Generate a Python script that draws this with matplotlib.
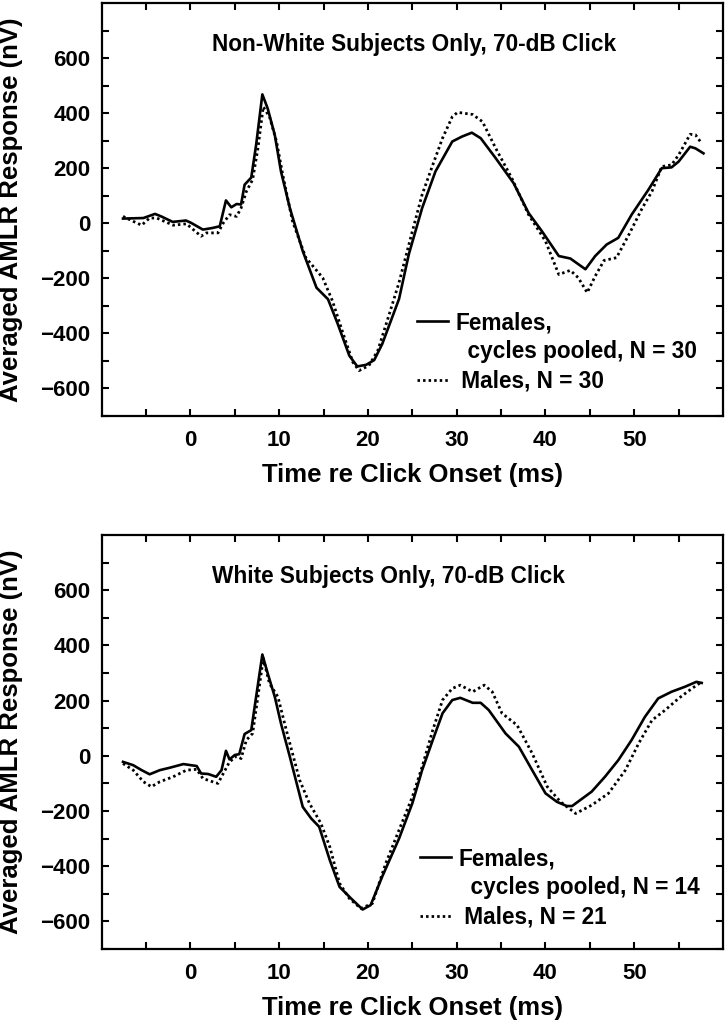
import matplotlib
matplotlib.use("Agg")
import matplotlib.pyplot as plt
from matplotlib.lines import Line2D
from matplotlib.ticker import FixedLocator

plt.rcParams['font.family'] = ['Liberation Sans', 'DejaVu Sans']
plt.rcParams['font.weight'] = 'bold'

# ---------------- data ----------------
top_title = "Non-White Subjects Only, 70-dB Click"
bot_title = "White Subjects Only, 70-dB Click"

top_f_t = [-7.6, -5.3, -4.0, -3.3, -2.0, -0.5, 0.1, 1.4, 2.5, 3.3, 4.0, 4.6, 5.2, 5.7, 6.1, 6.85,
           7.4, 8.1, 8.7, 9.5, 10.2, 11.2, 12.65, 14.2, 15.5, 16.6, 17.9, 18.8, 19.8, 20.7, 21.6,
           23.5, 24.6, 26.1, 27.6, 29.5, 30.6, 31.7, 32.7, 34.4, 36.4, 38.1, 39.6, 41.5, 42.8,
           44.5, 45.6, 46.9, 48.2, 49.7, 51.6, 53.1, 54.2, 55.0, 56.3, 56.9, 57.8]
top_f_v = [17, 19, 34, 25, 5, 10, 1, -23, -17, -11, 83, 58, 70, 68, 140, 166,
           285, 468, 417, 321, 188, 55, -101, -234, -276, -366, -481, -520, -514, -497, -439,
           -275, -113, 55, 188, 297, 315, 329, 309, 236, 146, 37, -29, -119, -128,
           -167, -119, -77, -53, 31, 122, 200, 203, 224, 278, 272, 254]

top_m_t = [-7.6, -6.45, -5.5, -4.6, -3.8, -1.95, -0.45, 0.1, 1.2, 1.8, 3.1, 3.7, 4.4, 5.2, 5.7,
           6.3, 7.0, 7.6, 8.2, 8.9, 9.7, 10.4, 11.5, 13.0, 14.9, 16.0, 17.1, 18.3, 19.0, 20.1,
           21.1, 22.4, 23.5, 25.0, 26.1, 27.3, 28.4, 29.5, 30.1, 31.8, 32.9, 34.4, 36.2, 38.1,
           40.0, 41.5, 42.8, 43.7, 44.7, 45.6, 46.6, 48.0, 49.4, 50.9, 52.0, 53.1, 54.2, 55.0,
           56.3, 56.9, 57.6]
top_m_v = [25, 7, -7, 19, 19, -7, -2, -17, -47, -35, -35, 1, 31, 25, 55,
           116, 158, 272, 423, 387, 297, 176, 7, -125, -198, -282, -391, -505, -535, -517,
           -463, -330, -215, -29, 104, 212, 309, 387, 403, 395, 369, 272, 164, 31,
           -65, -186, -171, -198, -252, -192, -135, -125, -41, 55, 116, 206, 212, 248,
           323, 321, 290]

bot_f_t = [-7.6, -6.45, -5.5, -4.6, -3.45, -2.3, -0.8, 0.7, 1.2, 2.0, 2.9, 3.5, 4.0, 4.4, 5.0,
           5.5, 6.1, 6.85, 7.4, 8.1, 8.7, 9.5, 10.2, 11.2, 12.65, 13.6, 14.5, 15.7, 16.8, 18.1,
           19.4, 20.3, 21.6, 23.5, 25.0, 26.1, 27.3, 28.4, 29.5, 30.4, 31.8, 32.7, 33.6, 35.5,
           37.0, 38.5, 40.0, 41.3, 42.4, 43.0, 45.2, 46.7, 48.2, 49.7, 51.2, 52.7, 54.2, 55.7,
           57.0, 57.6]
bot_f_v = [-22, -34, -52, -67, -52, -43, -30, -37, -64, -66, -76, -52, 18, -13, 3,
           6, 79, 93, 214, 367, 299, 214, 117, -4, -185, -227, -257, -378, -475, -517,
           -557, -541, -438, -300, -172, -52, 57, 154, 202, 210, 192, 192, 166, 81,
           33, -52, -136, -167, -182, -182, -130, -76, -16, 57, 141, 208, 232, 250,
           268, 264]

bot_m_t = [-7.6, -6.45, -5.3, -4.4, -3.45, -1.95, -0.45, 0.7, 1.4, 2.2, 3.1, 3.7, 4.4, 5.2, 5.7,
           6.3, 7.0, 7.6, 8.2, 8.9, 9.85, 10.8, 12.3, 13.4, 14.7, 15.7, 16.8, 17.9, 19.2, 20.5,
           22.0, 23.5, 25.0, 26.1, 27.3, 28.4, 29.5, 30.4, 31.8, 33.1, 34.0, 35.1, 36.8, 38.5,
           40.2, 41.7, 43.4, 45.2, 47.1, 49.0, 50.5, 52.0, 53.5, 55.0, 56.5, 57.6]
bot_m_v = [-28, -52, -94, -112, -94, -76, -52, -49, -82, -91, -100, -64, -22, -1, -10,
           57, 81, 214, 353, 262, 214, 93, -88, -172, -245, -330, -462, -517, -553, -535,
           -390, -269, -149, -40, 93, 202, 244, 256, 232, 256, 232, 154, 111, 9,
           -112, -167, -209, -179, -136, -52, 45, 129, 166, 208, 244, 268]

top_labels = ["Females,", "  cycles pooled, N = 30", " Males, N = 30"]
bot_labels = ["Females,", "  cycles pooled, N = 14", " Males, N = 21"]

x_major = [0, 10, 20, 30, 40, 50]
x_minor = [-5, 5, 15, 25, 35, 45, 55]
y_major = [-600, -400, -200, 0, 200, 400, 600]
y_minor = [-700, -500, -300, -100, 100, 300, 500, 700]

xlabel = "Time re Click Onset (ms)"
ylabel = "Averaged AMLR Response (nV)"

# ---------------- figure ----------------
W, H = 727, 1021
fig = plt.figure(figsize=(W / 100, H / 100), dpi=100)

SOLID = dict(color='black', lw=1.9, linestyle='-', solid_joinstyle='round')
DOT = dict(color='black', lw=2.0, linestyle=(0, (0.9, 1.1)))


def make_panel(rect, f_t, f_v, m_t, m_v, title, labels, leg_anchor):
    ax = fig.add_axes(rect)
    ax.plot(m_t, m_v, **DOT)
    ax.plot(f_t, f_v, **SOLID)
    ax.set_xlim(-10, 60)
    ax.set_ylim(-700, 800)
    ax.xaxis.set_major_locator(FixedLocator(x_major))
    ax.xaxis.set_minor_locator(FixedLocator(x_minor))
    ax.yaxis.set_major_locator(FixedLocator(y_major))
    ax.yaxis.set_minor_locator(FixedLocator(y_minor))
    ax.tick_params(which='both', direction='in', top=True, right=True,
                   length=5, width=1.5)
    ax.tick_params(axis='x', which='major', labelsize=16, pad=10)
    ax.tick_params(axis='y', which='major', labelsize=16, pad=8)
    for s in ax.spines.values():
        s.set_linewidth(1.6)
    for lab in ax.get_xticklabels() + ax.get_yticklabels():
        lab.set_fontweight('bold')
    ax.set_xlabel(xlabel, fontsize=18.5, fontweight='bold', labelpad=8.5)
    ax.set_ylabel(ylabel, fontsize=18.5, fontweight='bold')
    ax.yaxis.set_label_coords(-0.127, 0.5)
    ax.text(0.177, 0.883, title, transform=ax.transAxes, fontsize=16.3,
            fontweight='bold', ha='left', va='baseline')
    handles = [Line2D([], [], **SOLID),
               Line2D([], [], color='none'),
               Line2D([], [], **DOT)]
    ax.legend(handles, labels, loc='upper left', bbox_to_anchor=leg_anchor,
              frameon=False, borderpad=0, borderaxespad=0,
              handlelength=1.37, handletextpad=0.31, labelspacing=0.28,
              prop={'size': 16.3, 'weight': 'bold'})
    return ax


make_panel([101.7 / W, 1 - 416 / H, 621.3 / W, 413 / H],
           top_f_t, top_f_v, top_m_t, top_m_v, top_title, top_labels, (0.5075, 0.254))
make_panel([101.7 / W, 1 - 949 / H, 621.3 / W, 414 / H],
           bot_f_t, bot_f_v, bot_m_t, bot_m_v, bot_title, bot_labels, (0.513, 0.246))

fig.savefig("out.png", dpi=100)
